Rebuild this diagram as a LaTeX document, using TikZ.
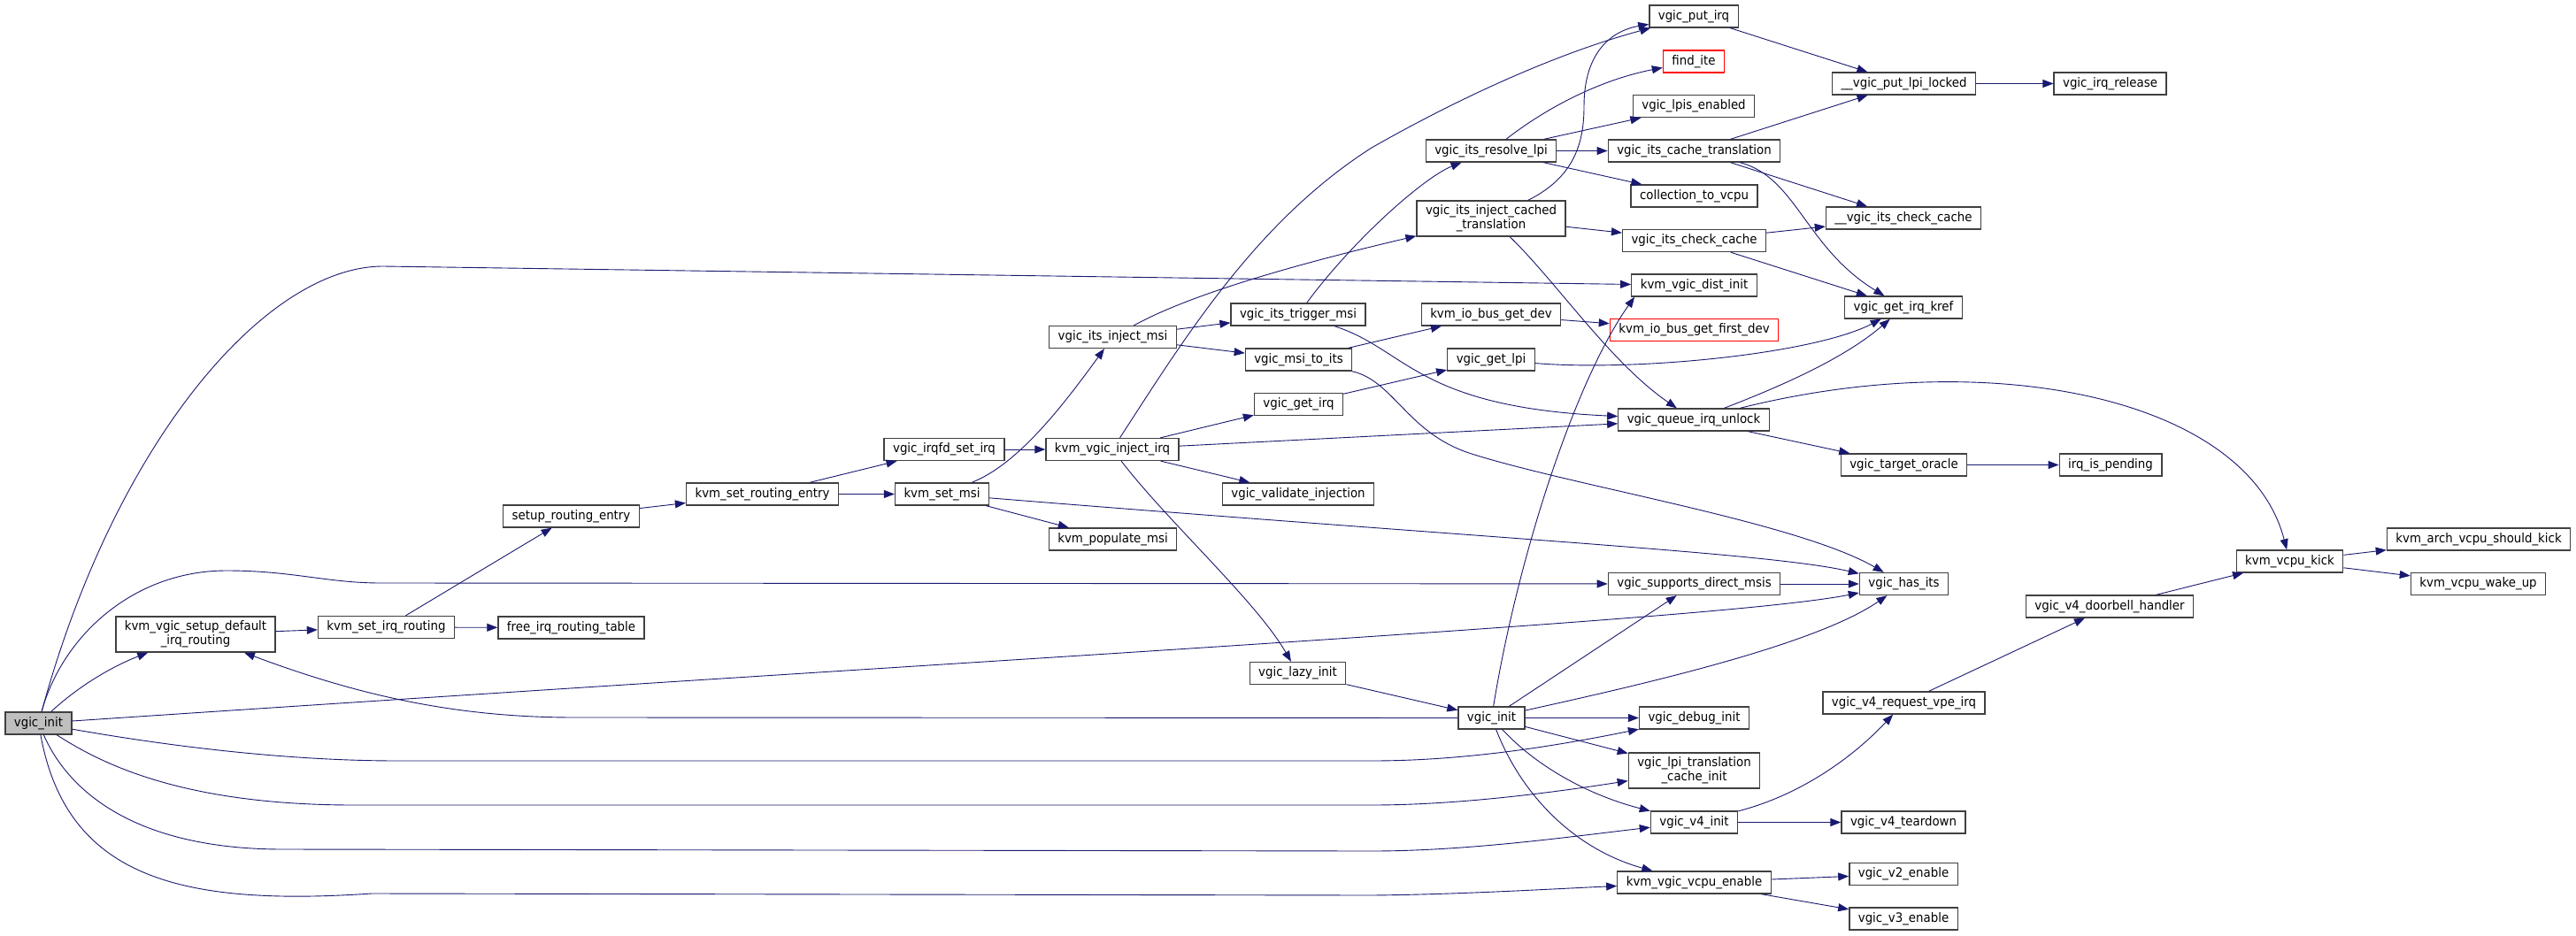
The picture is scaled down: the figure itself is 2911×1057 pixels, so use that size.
\documentclass[tikz,border=0pt]{standalone}
\usepackage{fontspec}
\setmainfont{DejaVu Sans}[FakeStretch=0.92]
\usetikzlibrary{arrows.meta,calc}
\definecolor{edgeblue}{RGB}{25,25,112}
\definecolor{nodegrey}{RGB}{64,64,64}
\definecolor{mainfill}{RGB}{191,191,191}
\definecolor{linkred}{RGB}{255,0,0}
\begin{document}
\begin{tikzpicture}[x=1pt,y=-1pt,
  fn/.style={draw=nodegrey, line width=1.3pt, fill=white, minimum height=25pt,
    inner xsep=10pt, inner ysep=0pt, font=\fontsize{14.5}{16}\selectfont, align=center},
  fn2/.style={fn, minimum height=40pt},
  mainfn/.style={fn, fill=mainfill},
  redfn/.style={fn, draw=linkred},
  e/.style={draw=edgeblue, line width=0.9pt, -{Triangle[length=12pt,width=9pt]}}]
\fill[white] (0,0) rectangle (2911,1057);
\useasboundingbox (0,0) rectangle (2911,1057);
% nodes
\node[mainfn] (vi) at (43.5,817.5) {vgic\_init};
\node[fn2] (kvsd) at (221,717) {kvm\_vgic\_setup\_default\\\_irq\_routing};
\node[fn] (ksir) at (436.5,709) {kvm\_set\_irq\_routing};
\node[fn] (frt) at (645.5,709.5) {free\_irq\_routing\_table};
\node[fn] (sre) at (645.5,583.5) {setup\_routing\_entry};
\node[fn] (ksre) at (861.5,558.5) {kvm\_set\_routing\_entry};
\node[fn] (ksm) at (1064.5,558.5) {kvm\_set\_msi};
\node[fn] (vifs) at (1067,508) {vgic\_irqfd\_set\_irq};
\node[fn] (kvi) at (1257,508) {kvm\_vgic\_inject\_irq};
\node[fn] (vim) at (1257.5,381) {vgic\_its\_inject\_msi};
\node[fn] (kpm) at (1257.5,609.5) {kvm\_populate\_msi};
\node[fn] (vtm) at (1467,355.5) {vgic\_its\_trigger\_msi};
\node[fn] (vmti) at (1467.5,406.5) {vgic\_msi\_to\_its};
\node[fn] (vgi) at (1467.5,457) {vgic\_get\_irq};
\node[fn] (vvi) at (1467,558.5) {vgic\_validate\_injection};
\node[fn] (vli) at (1466.5,761) {vgic\_lazy\_init};
\node[fn] (vi2) at (1685.5,811.5) {vgic\_init};
\node[fn] (virl) at (1685,170.5) {vgic\_its\_resolve\_lpi};
\node[fn2] (vict) at (1685,247) {vgic\_its\_inject\_cached\\\_translation};
\node[fn] (kbgd) at (1685,355.5) {kvm\_io\_bus\_get\_dev};
\node[fn] (vgl) at (1685,406.5) {vgic\_get\_lpi};
\node[fn] (vpi) at (1914,18.5) {vgic\_put\_irq};
\node[redfn] (fi) at (1914,69.5) {find\_ite};
\node[fn] (vle) at (1914,120) {vgic\_lpis\_enabled};
\node[fn] (victr) at (1914.5,170.5) {vgic\_its\_cache\_translation};
\node[fn] (ctv) at (1914.5,221.5) {collection\_to\_vcpu};
\node[fn] (vicc) at (1914.5,272) {vgic\_its\_check\_cache};
\node[fn] (kdi) at (1914.5,322.5) {kvm\_vgic\_dist\_init};
\node[redfn] (kbgfd) at (1914.5,373) {kvm\_io\_bus\_get\_first\_dev};
\node[fn] (vqiu) at (1914,474.5) {vgic\_queue\_irq\_unlock};
\node[fn] (vsdm) at (1914.5,660) {vgic\_supports\_direct\_msis};
\node[fn] (vdi) at (1914.5,811.5) {vgic\_debug\_init};
\node[fn2] (vltci) at (1914.5,871) {vgic\_lpi\_translation\\\_cache\_init};
\node[fn] (v4i) at (1914.5,929.5) {vgic\_v4\_init};
\node[fn] (kvve) at (1914.5,997.5) {kvm\_vgic\_vcpu\_enable};
\node[fn] (vpll) at (2151.5,94.5) {\_\_vgic\_put\_lpi\_locked};
\node[fn] (vicc2) at (2151,246.5) {\_\_vgic\_its\_check\_cache};
\node[fn] (vgik) at (2151,347.5) {vgic\_get\_irq\_kref};
\node[fn] (vto) at (2151.5,525.5) {vgic\_target\_oracle};
\node[fn] (vhi) at (2151.5,660) {vgic\_has\_its};
\node[fn] (v4rvi) at (2151.5,794.5) {vgic\_v4\_request\_vpe\_irq};
\node[fn] (v4t) at (2151,929.5) {vgic\_v4\_teardown};
\node[fn] (v2e) at (2151,988) {vgic\_v2\_enable};
\node[fn] (v3e) at (2151,1038.5) {vgic\_v3\_enable};
\node[fn] (vir) at (2384.5,94.5) {vgic\_irq\_release};
\node[fn] (iip) at (2385,525.5) {irq\_is\_pending};
\node[fn] (v4dh) at (2384,685.5) {vgic\_v4\_doorbell\_handler};
\node[fn] (kvk) at (2587.5,634.5) {kvm\_vcpu\_kick};
\node[fn] (kavsk) at (2801,609.5) {kvm\_arch\_vcpu\_should\_kick};
\node[fn] (kvwu) at (2800.5,660) {kvm\_vcpu\_wake\_up};
% edges from vgic_init
\draw[e] (vi) .. controls (130,500) and (300,301) .. (433,301) -- (kdi);
\draw[e] (vi) .. controls (70,720) and (150,645) .. (256,645) .. controls (330,645) and (370,659) .. (430,659) -- (vsdm);
\draw[e] (vi) .. controls (95,770) and (135,750) .. (kvsd);
\draw[e] (vi) .. controls (1200,740) and (1950,700) .. (vhi);
\draw[e] (vi) .. controls (200,845) and (330,860) .. (450,860) -- (1550,860) .. controls (1650,860) and (1750,845) .. (vdi);
\draw[e] (vi) .. controls (110,860) and (200,910) .. (400,910) -- (1550,910) .. controls (1650,910) and (1760,895) .. (vltci);
\draw[e] (vi) .. controls (80,900) and (160,960) .. (320,960) -- (1550,962) .. controls (1660,962) and (1780,945) .. (v4i);
\draw[e] (vi) .. controls (75,990) and (200,1025) .. (420,1010) -- (1550,1012) .. controls (1650,1011) and (1750,1005) .. (kvve);
% routing chain
\draw[e] (vi2) -- (650,811) .. controls (520,811) and (410,788) .. (kvsd);
\draw[e] (kvsd) -- (ksir);
\draw[e] (ksir) -- (sre);
\draw[e] (ksir) -- (frt);
\draw[e] (sre) -- (ksre);
\draw[e] (ksre) -- (vifs);
\draw[e] (ksre) -- (ksm);
\draw[e] (vifs) -- (kvi);
\draw[e] (ksm) .. controls (1150,525) and (1200,460) .. (vim);
\draw[e] (ksm) -- (kpm);
\draw[e] (ksm) .. controls (1700,610) and (2000,625) .. (vhi);
% kvm_vgic_inject_irq
\draw[e] (kvi) .. controls (1340,380) and (1420,250) .. (1550,167) .. controls (1650,110) and (1760,60) .. (vpi);
\draw[e] (kvi) -- (vgi);
\draw[e] (kvi) -- (vqiu);
\draw[e] (kvi) -- (vvi);
\draw[e] (kvi) .. controls (1320,590) and (1420,680) .. (vli);
% its inject msi
\draw[e] (vim) -- (vtm);
\draw[e] (vim) -- (vmti);
\draw[e] (vim) .. controls (1350,330) and (1480,295) .. (vict);
\draw[e] (vtm) .. controls (1530,270) and (1610,200) .. (virl);
\draw[e] (vtm) .. controls (1590,395) and (1600,460) .. (vqiu);
\draw[e] (vmti) -- (kbgd);
\draw[e] (vmti) .. controls (1575,430) and (1590,490) .. (1663,513) .. controls (1780,550) and (2030,590) .. (vhi);
\draw[e] (vgi) -- (vgl);
\draw[e] (vgl) .. controls (1850,420) and (2050,400) .. (vgik);
\draw[e] (kbgd) -- (kbgfd);
\draw[e] (vli) -- (vi2);
% vgic_init (2)
\draw[e] (vi2) .. controls (1715,630) and (1780,430) .. ($(kdi.south west)+(4,0)$);
\draw[e] (vi2) -- (vsdm);
\draw[e] (vi2) .. controls (1850,775) and (2050,730) .. (vhi);
\draw[e] (vi2) -- (vdi);
\draw[e] (vi2) -- (vltci);
\draw[e] (vi2) .. controls (1740,870) and (1800,900) .. (v4i);
\draw[e] (vi2) .. controls (1720,900) and (1780,960) .. (kvve);
% resolve lpi / cached translation
\draw[e] (virl) .. controls (1750,120) and (1810,90) .. (fi);
\draw[e] (virl) -- (vle);
\draw[e] (virl) -- (victr);
\draw[e] (virl) -- (ctv);
\draw[e] (vict) .. controls (1780,200) and (1790,160) .. (1790,120) .. controls (1790,60) and (1820,35) .. (vpi);
\draw[e] (vict) -- (vicc);
\draw[e] (vict) .. controls (1760,320) and (1820,410) .. (vqiu);
% third column
\draw[e] (vpi) -- (vpll);
\draw[e] (victr) -- (vpll);
\draw[e] (victr) -- (vicc2);
\draw[e] (victr) .. controls (2030,200) and (2040,280) .. (vgik);
\draw[e] (vicc) -- (vicc2);
\draw[e] (vicc) -- (vgik);
\draw[e] (vqiu) .. controls (2030,430) and (2090,400) .. (vgik);
\draw[e] (vqiu) .. controls (2250,390) and (2540,450) .. (kvk);
\draw[e] (vqiu) -- (vto);
\draw[e] (vpll) -- (vir);
\draw[e] (vto) -- (iip);
\draw[e] (vsdm) -- (vhi);
\draw[e] (v4i) .. controls (2030,900) and (2090,860) .. (v4rvi);
\draw[e] (v4i) -- (v4t);
\draw[e] (v4rvi) -- (v4dh);
\draw[e] (v4dh) -- (kvk);
\draw[e] (kvk) -- (kavsk);
\draw[e] (kvk) -- (kvwu);
\draw[e] (kvve) -- (v2e);
\draw[e] (kvve) -- (v3e);
\end{tikzpicture}
\end{document}
